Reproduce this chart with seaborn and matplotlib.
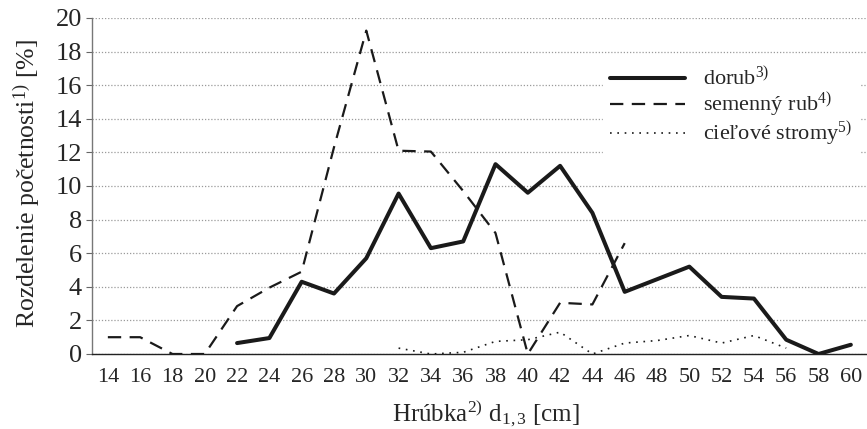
import numpy as np
import pandas as pd
import matplotlib
matplotlib.use("Agg")
import matplotlib.pyplot as plt
import seaborn as sns
from matplotlib.lines import Line2D

# ---- data ----
categories = [14, 16, 18, 20, 22, 24, 26, 28, 30, 32, 34, 36, 38, 40, 42, 44,
              46, 48, 50, 52, 54, 56, 58, 60]
dorub_x = [22, 24, 26, 28, 30, 32, 34, 36, 38, 40, 42, 44, 46, 48, 50, 52, 54, 56, 58, 60]
dorub_y = [0.65, 0.95, 4.3, 3.6, 5.7, 9.55, 6.3, 6.7, 11.3, 9.6, 11.2, 8.4, 3.7,
           4.45, 5.2, 3.4, 3.3, 0.85, 0.0, 0.55]
semenny_x = [14, 16, 18, 20, 22, 24, 26, 28, 30, 32, 34, 36, 38, 40, 42, 44, 46]
semenny_y = [1.0, 1.0, 0.0, 0.0, 2.85, 3.95, 4.9, 12.3, 19.25, 12.1, 12.05, 9.7,
             7.2, 0.0, 3.05, 2.95, 6.6]
ciel_x = [32, 34, 36, 38, 40, 42, 44, 46, 48, 50, 52, 54, 56]
ciel_y = [0.35, 0.0, 0.1, 0.75, 0.85, 1.3, 0.0, 0.65, 0.8, 1.1, 0.65, 1.1, 0.35]
yticks = [0, 2, 4, 6, 8, 10, 12, 14, 16, 18, 20]
series_labels = ["dorub$^{\\mathrm{3)}}$", "semenný rub$^{\\mathrm{4)}}$",
                 "cieľové stromy$^{\\mathrm{5)}}$"]

sns.set_style("white")
plt.rcParams["font.family"] = ["Liberation Serif", "DejaVu Serif"]
plt.rcParams["mathtext.fontset"] = "custom"
plt.rcParams["mathtext.rm"] = "Liberation Serif"
plt.rcParams["mathtext.it"] = "Liberation Serif:italic"

cat_pos = {c: i for i, c in enumerate(categories)}

W, H = 867, 429
fig = plt.figure(figsize=(W / 100, H / 100), dpi=100)
x0, y0, y1 = 91.7, 354, 18
ax = fig.add_axes([x0 / W, (H - y0) / H, 1.0 - x0 / W, (y0 - y1) / H])

df_d = pd.DataFrame({"x": [cat_pos[c] for c in dorub_x], "y": dorub_y})
df_s = pd.DataFrame({"x": [cat_pos[c] for c in semenny_x], "y": semenny_y})
df_c = pd.DataFrame({"x": [cat_pos[c] for c in ciel_x], "y": ciel_y})

col = "#1a1a1a"
dot_style = (0, (1, 3.4))
dash_style = (0, (6, 3.8))
sns.lineplot(data=df_c, x="x", y="y", ax=ax, color=col, lw=1.2,
             linestyle=dot_style, zorder=3)
sns.lineplot(data=df_s, x="x", y="y", ax=ax, color=col, lw=1.6,
             linestyle=dash_style, zorder=4)
sns.lineplot(data=df_d, x="x", y="y", ax=ax, color=col, lw=2.9, zorder=5)

ax.set_xlim(-0.5, 23.36)
ax.set_ylim(0, 20)
ax.set_yticks(yticks)
ax.set_yticklabels([str(v) for v in yticks], fontsize=19)
ax.yaxis.grid(True, linestyle=(0, (1, 1.5)), color="#9a9a9a", lw=0.9)
ax.xaxis.grid(False)
ax.set_axisbelow(True)

ax.set_xticks(range(len(categories)))
ax.set_xticklabels([str(c) for c in categories], fontsize=16)
ax.set_xticks(np.arange(-0.5, len(categories), 1), minor=True)
ax.tick_params(axis="x", which="major", length=0, pad=10)
ax.tick_params(axis="x", which="minor", length=4, width=0.8, color="#333333", direction="out")
ax.tick_params(axis="y", which="major", length=4, width=0.8, color="#666666",
               direction="out", pad=3, left=True)

for s in ["top", "right"]:
    ax.spines[s].set_visible(False)
ax.spines["left"].set_color("#777777")
ax.spines["left"].set_linewidth(1.0)
ax.spines["bottom"].set_color("#222222")
ax.spines["bottom"].set_linewidth(1.0)

axw = W - x0
axh = y0 - y1
ax.set_xlabel("Hrúbka$^{\\mathrm{2)}}$ d$_{\\mathrm{1,3}}$ [cm]", fontsize=18)
ax.xaxis.label.set_ha("left")
ax.xaxis.label.set_va("baseline")
ax.xaxis.set_label_coords((392 - x0) / axw, -(421 - y0) / axh)

ax.set_ylabel("Rozdelenie početnosti$^{\\mathrm{1)}}$ [%]", fontsize=18.5)
ax.yaxis.set_label_coords(-(x0 - 43) / axw, (y0 - 183) / axh)

handles = [
    Line2D([], [], color=col, lw=2.9),
    Line2D([], [], color=col, lw=1.6, linestyle=dash_style),
    Line2D([], [], color=col, lw=1.2, linestyle=dot_style),
]
leg = ax.legend(handles, series_labels, loc="upper left",
                bbox_to_anchor=(603 / W, 1 - 60 / H), bbox_transform=fig.transFigure,
                frameon=True, fontsize=16, handlelength=3.4, handletextpad=0.8,
                labelspacing=0.0, borderpad=0.3, borderaxespad=0, fancybox=False)
leg.get_frame().set_edgecolor("white")
leg.get_frame().set_facecolor("white")
leg.get_frame().set_alpha(1.0)

fig.savefig("out.png", dpi=100)
